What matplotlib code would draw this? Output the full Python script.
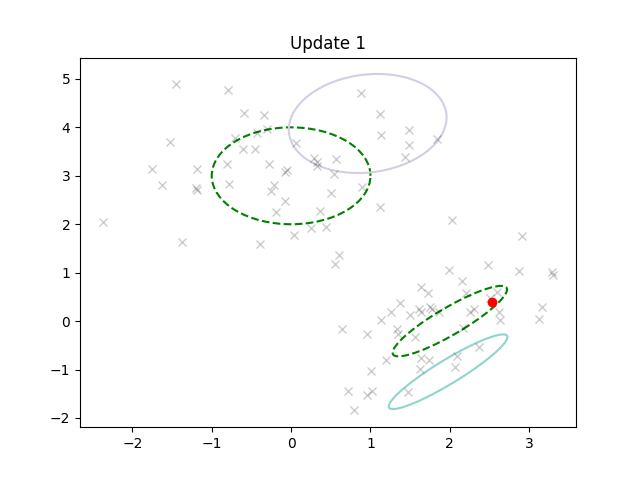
import numpy as np
import matplotlib
matplotlib.use('Agg')
from matplotlib import pyplot as plt
from matplotlib.patches import Ellipse

xs = [-1.451, -0.795, -0.597, -0.342, -0.299, -0.425, -0.707, -1.526, -0.606, -0.455,
      -1.753, -1.186, -0.803, -0.279, -1.627, -1.198, -1.190, -0.783, -0.216, -0.257,
      -0.185, -2.371, -1.375, -0.392, 0.881, 1.117, 1.486, 1.138, 1.839, 1.486,
      0.058, 1.435, 0.289, 0.326, 0.323, 0.562, -0.047, -0.081, 0.541, 0.890,
      0.503, -0.077, 1.117, 0.364, 2.024, 0.251, 0.436, 0.037, 0.604, 0.549,
      1.990, 2.481, 2.868, 3.288, 3.306, 2.910, 2.154, 1.637, 1.725, 2.200,
      2.591, 1.372, 1.255, 1.608, 1.633, 1.756, 1.781, 1.866, 1.501, 1.135,
      2.251, 2.301, 2.503, 2.623, 2.635, 3.158, 3.124, 0.641, 0.957, 1.331,
      1.347, 1.564, 2.163, 2.364, 1.196, 1.637, 1.743, 2.087, 1.621, 2.062,
      1.007, 0.722, 0.962, 1.025, 1.473, 0.789]
ys = [4.889, 4.766, 4.291, 4.249, 3.967, 3.878, 3.781, 3.692, 3.554, 3.554,
      3.141, 3.141, 3.238, 3.238, 2.804, 2.754, 2.707, 2.825, 2.810, 2.680,
      2.259, 2.046, 1.633, 1.586, 4.704, 4.276, 3.946, 3.836, 3.754, 3.630,
      3.671, 3.388, 3.362, 3.285, 3.203, 3.341, 3.120, 3.072, 3.037, 2.769,
      2.645, 2.474, 2.356, 2.267, 2.081, 1.916, 1.943, 1.778, 1.365, 1.173,
      1.049, 1.152, 1.034, 1.014, 0.952, 1.751, 0.828, 0.698, 0.574, 0.574,
      0.601, 0.368, 0.198, 0.240, 0.198, 0.297, 0.244, 0.198, 0.122, 0.019,
      0.188, 0.260, 0.471, 0.198, 0.023, 0.301, 0.043, -0.169, -0.273, -0.153,
      -0.266, -0.328, -0.142, -0.539, -0.809, -0.768, -0.809, -0.721, -0.989, -0.948,
      -1.037, -1.437, -1.532, -1.437, -1.464, -1.836]

# current sample
pt_x, pt_y = 2.534, 0.39

# true components (dashed) and current estimates (solid)
true_means = [[0.0, 3.0], [2.0, 0.0]]
true_covs = [[[1.0, 0.0], [0.0, 1.0]],
             [[0.52, 0.47], [0.47, 0.53]]]
est_means = [[0.965, 4.08], [1.978, -1.045]]
est_covs = [[[0.988, 0.125], [0.125, 1.045]],
            [[0.559, 0.535], [0.535, 0.595]]]
est_colors = ['#d6cce6', '#8ed5cc']


def cov_ellipse(ax, mean, cov, **kw):
    vals, vecs = np.linalg.eigh(np.array(cov))
    angle = np.degrees(np.arctan2(vecs[1, -1], vecs[0, -1]))
    e = Ellipse(mean, 2 * np.sqrt(vals[-1]), 2 * np.sqrt(vals[0]),
                angle=angle, fill=False, **kw)
    ax.add_patch(e)


fig, ax = plt.subplots(figsize=(6.4, 4.8), dpi=100)
ax.plot(xs, ys, 'x', color='k', alpha=0.2)
for m, c in zip(true_means, true_covs):
    cov_ellipse(ax, m, c, color='green', ls='--', lw=1.5)
for m, c, col in zip(est_means, est_covs, est_colors):
    cov_ellipse(ax, m, c, color=col, lw=1.5)
ax.plot(pt_x, pt_y, 'ro')

ax.set_xlim(-2.66, 3.59)
ax.set_ylim(-2.19, 5.44)
ax.set_title('Update 1')
fig.savefig('out.png')
